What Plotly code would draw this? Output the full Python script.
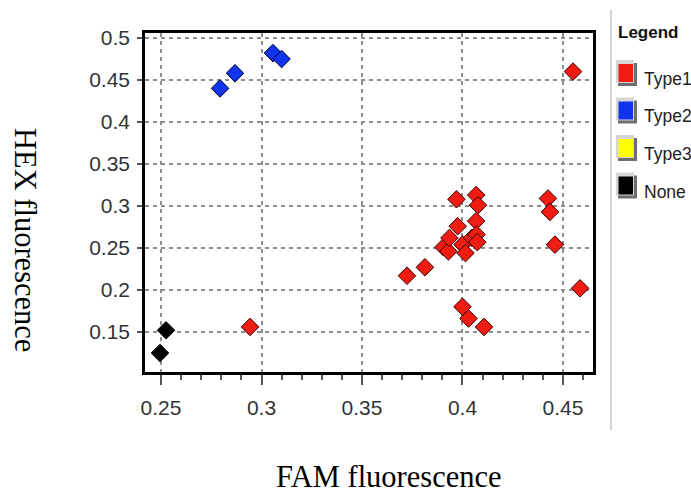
import plotly.graph_objects as go

# FAM / HEX end-point fluorescence per genotype call
type1_fam = [0.2943, 0.3724, 0.3813, 0.3905, 0.3930, 0.3935, 0.3970, 0.3976, 0.4000,
             0.4000, 0.4015, 0.4030, 0.4047, 0.4068, 0.4068, 0.4070, 0.4074, 0.4077,
             0.4107, 0.4425, 0.4435, 0.4460, 0.4550, 0.4585]
type1_hex = [0.156, 0.217, 0.227, 0.251, 0.246, 0.262, 0.308, 0.276, 0.180,
             0.254, 0.244, 0.166, 0.262, 0.313, 0.282, 0.266, 0.257, 0.301,
             0.156, 0.309, 0.293, 0.254, 0.460, 0.202]

type2_fam = [0.2794, 0.2868, 0.3057, 0.3100]
type2_hex = [0.440, 0.458, 0.482, 0.475]

type3_fam = []
type3_hex = []

none_fam = [0.2495, 0.2525]
none_hex = [0.125, 0.152]

series_names = ["Type1", "Type2", "Type3", "None"]
series_colors = ["#f01c12", "#1034ec", "#ffff00", "#000000"]
series_edges = ["#3a0000", "#000030", "#404000", "#000000"]
series_x = [type1_fam, type2_fam, type3_fam, none_fam]
series_y = [type1_hex, type2_hex, type3_hex, none_hex]

x_range = [0.24204, 0.46493]
y_range = [0.10238, 0.50595]

W, H = 691, 496
M_L, M_R, M_T, M_B = 145, 98, 33, 124
PW, PH = W - M_L - M_R, H - M_T - M_B

def px(x):
    return (x - M_L) / PW

def py(y):
    return (H - M_B - y) / PH

sans = "Liberation Sans, Arial, sans-serif"
serif = "Liberation Serif, Times New Roman, serif"
tick_font = dict(family=sans, size=21, color="#333333")
title_font = dict(family=serif, size=30.5, color="#000000")

fig = go.Figure()

# data points (diamonds), drawn in reverse so Type1 sits on top
for name, col, edge, xs, ys in reversed(list(zip(series_names, series_colors, series_edges,
                                                  series_x, series_y))):
    fig.add_trace(go.Scatter(
        x=xs, y=ys, mode="markers", name=name, showlegend=False,
        marker=dict(symbol="diamond", size=13.5, color=col,
                    line=dict(color=edge, width=1)),
    ))

grid = dict(showgrid=True, gridcolor="#8e8e8e", gridwidth=1.5, griddash="4px,4px",
            zeroline=False, showline=True, linecolor="#000000", linewidth=2.5,
            mirror=True, ticks="outside", tickcolor="#555555", tickfont=tick_font)

fig.update_xaxes(range=x_range, tick0=0.25, dtick=0.05, ticklen=10, tickwidth=1.5,
                 ticklabelstandoff=5,
                 minor=dict(ticks="outside", dtick=0.01, tick0=0.25, ticklen=5,
                            tickcolor="#555555", showgrid=False),
                 **grid)
fig.update_yaxes(range=y_range, tick0=0.15, dtick=0.05, ticklen=5, tickwidth=1.5,
                 ticklabelstandoff=3, **grid)

# legend panel: separator, heading, bevelled swatches and labels
shapes = [dict(type="line", xref="paper", yref="paper",
               x0=px(611), x1=px(611), y0=py(430), y1=py(10),
               line=dict(color="#c8c8c8", width=1.5))]
annotations = [dict(text="<b>Legend</b>", xref="paper", yref="paper",
                    x=px(616), y=py(32), xanchor="left", yanchor="middle",
                    showarrow=False, font=dict(family=sans, size=17, color="#111111"))]

row_gap = 37.5
for i, (name, col) in enumerate(zip(series_names, series_colors)):
    cy = 73 + row_gap * i
    # dark shadow (bottom/right), light bevel (top/left), then the colour patch
    shapes.append(dict(type="rect", xref="paper", yref="paper",
                       x0=px(618), x1=px(637), y0=py(cy + 13), y1=py(cy - 10),
                       fillcolor="#6e6e6e", line=dict(width=0)))
    shapes.append(dict(type="rect", xref="paper", yref="paper",
                       x0=px(616), x1=px(634), y0=py(cy + 10), y1=py(cy - 13),
                       fillcolor="#d6d6d6", line=dict(width=0)))
    shapes.append(dict(type="rect", xref="paper", yref="paper",
                       x0=px(618.5), x1=px(633), y0=py(cy + 9), y1=py(cy - 9),
                       fillcolor=col, line=dict(width=0)))
    annotations.append(dict(text=name, xref="paper", yref="paper",
                            x=px(642), y=py(cy + 6), xanchor="left", yanchor="middle",
                            showarrow=False, font=dict(family=sans, size=17.5, color="#222222")))

annotations += [
    dict(text="HEX fluorescence", xref="paper", yref="paper",
         x=px(25), y=py(240), showarrow=False, textangle=90,
         font=title_font, xanchor="center", yanchor="middle"),
    dict(text="FAM fluorescence", xref="paper", yref="paper",
         x=px(389), y=py(477), showarrow=False,
         font=title_font, xanchor="center", yanchor="middle"),
]

fig.update_layout(
    width=W, height=H,
    margin=dict(l=M_L, r=M_R, t=M_T, b=M_B),
    paper_bgcolor="#ffffff", plot_bgcolor="#ffffff",
    showlegend=False,
    shapes=shapes,
    annotations=annotations,
)

fig.write_html("out.html")
